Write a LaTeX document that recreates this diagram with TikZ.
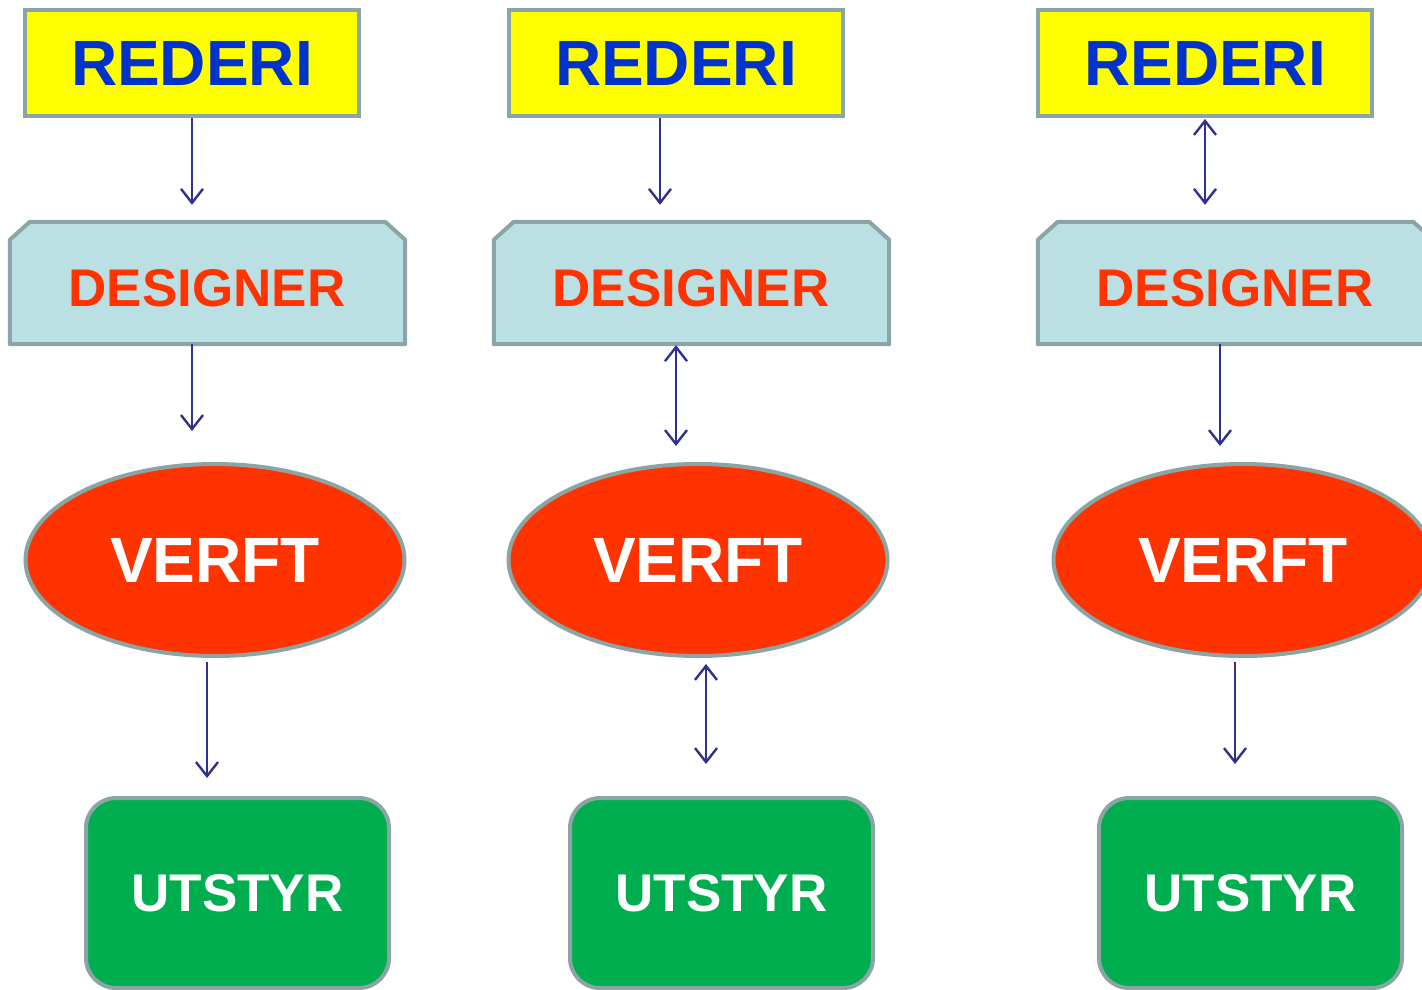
\documentclass[tikz,border=0pt]{standalone}
\usepackage{fontspec}
\setmainfont{Liberation Sans}
\usetikzlibrary{arrows.meta,shapes.geometric,calc}
\definecolor{bord}{HTML}{8BA5A6}
\definecolor{ryellow}{HTML}{FFFF00}
\definecolor{rblue}{HTML}{0033CC}
\definecolor{dfill}{HTML}{BBE0E3}
\definecolor{vred}{HTML}{FF3300}
\definecolor{ugreen}{HTML}{00AE50}
\definecolor{arrcol}{HTML}{2E3192}
\tikzset{
  rederi/.style={draw=bord, line width=4pt, fill=ryellow, minimum width=334pt, minimum height=106pt, inner sep=0pt, text=rblue, font=\fontsize{64}{64}\selectfont\bfseries},
  designer/.style={minimum width=395pt, minimum height=122pt, inner sep=0pt, text=vred, font=\fontsize{53}{53}\selectfont\bfseries},
  chamf/.style={draw=bord, line width=4pt, fill=dfill, line join=round},
  verft/.style={ellipse, draw=bord, line width=4pt, fill=vred, minimum width=379pt, minimum height=192pt, inner sep=0pt, text=white, font=\fontsize{64}{64}\selectfont\bfseries},
  utstyr/.style={draw=bord, line width=4pt, fill=ugreen, rounded corners=30pt, minimum width=303pt, minimum height=190pt, inner sep=0pt, text=white, font=\fontsize{53}{53}\selectfont\bfseries},
  arr/.style={draw=arrcol, line width=2.4pt, -{Straight Barb[length=14pt,width=22pt]}},
  darr/.style={draw=arrcol, line width=2.4pt, {Straight Barb[length=14pt,width=22pt]}-{Straight Barb[length=14pt,width=22pt]}}
}
\newcommand{\chamfbox}[1]{%
  \path[chamf] ($(#1.south west)$) -- ($(#1.north west)+(0,18)$) -- ($(#1.north west)+(20,0)$) -- ($(#1.north east)+(-20,0)$) -- ($(#1.north east)+(0,18)$) -- (#1.south east) -- cycle;}
\begin{document}
\begin{tikzpicture}[x=1pt,y=-1pt]
\useasboundingbox (0,0) rectangle (1422,989);
% column 1
\node[rederi] (r1) at (192,63) {REDERI};
\node[designer] (d1) at (207.5,283) {};
\chamfbox{d1}
\node[designer] (t1) at (207,288) {DESIGNER};
\node[verft] (v1) at (215,560) {VERFT};
\node[utstyr] (u1) at (237.5,893) {UTSTYR};
\draw[arr, shorten >=17pt] (r1.south) -- (r1.south |- d1.north);
\draw[arr, shorten >=31pt] ([xshift=-15.5pt]d1.south) -- ([xshift=-15.5pt]d1.south |- v1.north);
\draw[arr, shorten <=4pt, shorten >=18pt] ([xshift=-8pt]v1.south) -- ([xshift=-8pt]v1.south |- u1.north);
% column 2
\node[rederi] (r2) at (676,63) {REDERI};
\node[designer] (d2) at (691.5,283) {};
\chamfbox{d2}
\node[designer] (t2) at (691,288) {DESIGNER};
\node[verft] (v2) at (698,560) {VERFT};
\node[utstyr] (u2) at (721.5,893) {UTSTYR};
\draw[arr, shorten >=17pt] ([xshift=-16pt]r2.south) -- ([xshift=-16pt]r2.south |- d2.north);
\draw[darr, shorten <=1pt, shorten >=16pt] ([xshift=-15.5pt]d2.south) -- ([xshift=-15.5pt]d2.south |- v2.north);
\draw[darr, shorten <=6pt, shorten >=32pt] ([xshift=8pt]v2.south) -- ([xshift=8pt]v2.south |- u2.north);
% column 3
\node[rederi] (r3) at (1205,63) {REDERI};
\node[designer] (d3) at (1235.5,283) {};
\chamfbox{d3}
\node[designer] (t3) at (1235,288) {DESIGNER};
\node[verft] (v3) at (1243,560) {VERFT};
\node[utstyr] (u3) at (1250.5,893) {UTSTYR};
\draw[darr, shorten <=1pt, shorten >=17pt] (r3.south) -- (r3.south |- d3.north);
\draw[arr, shorten >=16pt] ([xshift=-15.5pt]d3.south) -- ([xshift=-15.5pt]d3.south |- v3.north);
\draw[arr, shorten <=4pt, shorten >=32pt] ([xshift=-8pt]v3.south) -- ([xshift=-8pt]v3.south |- u3.north);
\end{tikzpicture}
\end{document}
